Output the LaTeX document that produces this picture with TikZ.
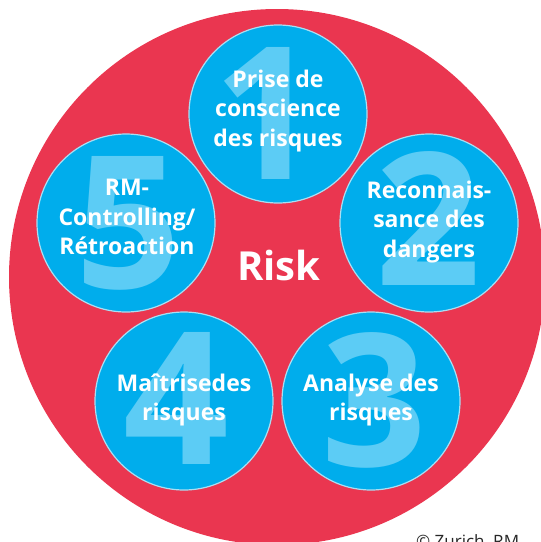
\documentclass[tikz,border=0pt]{standalone}
\usepackage{fontspec}
\setmainfont{Open Sans}
\definecolor{riskred}{RGB}{234,54,80}
\definecolor{stepblue}{RGB}{0,173,236}
\definecolor{digitblue}{RGB}{92,204,245}
\definecolor{ringline}{RGB}{170,222,242}
\begin{document}
\begin{tikzpicture}[x=1pt,y=-1pt,
  stepcircle/.style={circle,fill=stepblue,draw=ringline,line width=1.2pt,minimum size=178pt,inner sep=0pt},
  bignum/.style={text=digitblue,font=\fontsize{185}{185}\selectfont\bfseries,inner sep=0pt},
  steptext/.style={text=white,font=\fontsize{23}{29.5}\selectfont\bfseries,align=center,inner sep=0pt}]
\useasboundingbox (0,0) rectangle (541,542);
\fill[riskred] (277,277) circle[radius=268];
\node[stepcircle] (c1) at (278,114) {};
\node[stepcircle] (c2) at (429,223) {};
\node[stepcircle] (c3) at (371,401) {};
\node[stepcircle] (c4) at (184,401) {};
\node[stepcircle] (c5) at (126,223) {};
\node[bignum] (n1) at (266,113) {1};
\node[bignum] (n2) at (428,219) {2};
\node[bignum] (n3) at (374,400) {3};
\node[bignum] (n4) at (176,398) {4};
\node[bignum] (n5) at (128,223) {5};
\node[steptext] (t1) at (278,111) {Prise de\\conscience\\des risques};
\node[steptext] (t2) at (429,222) {Reconnais-\\sance des\\dangers};
\node[steptext] (t3) at (371,400) {Analyse des\\risques};
\node[steptext] (t4) at (184,400) {Maîtrisedes\\risques};
\node[steptext] (t5) at (127,217) {RM-\\Controlling/\\Rétroaction};
\node[text=white,font=\fontsize{40}{40}\selectfont\bfseries,anchor=base,inner sep=0pt] (risk) at (279,280) {Risk};
\node[text=black!85,font=\fontsize{17}{17}\selectfont,anchor=base west,inner sep=0pt] (copy) at (416,547) {© Zurich, RM};
\end{tikzpicture}
\end{document}
